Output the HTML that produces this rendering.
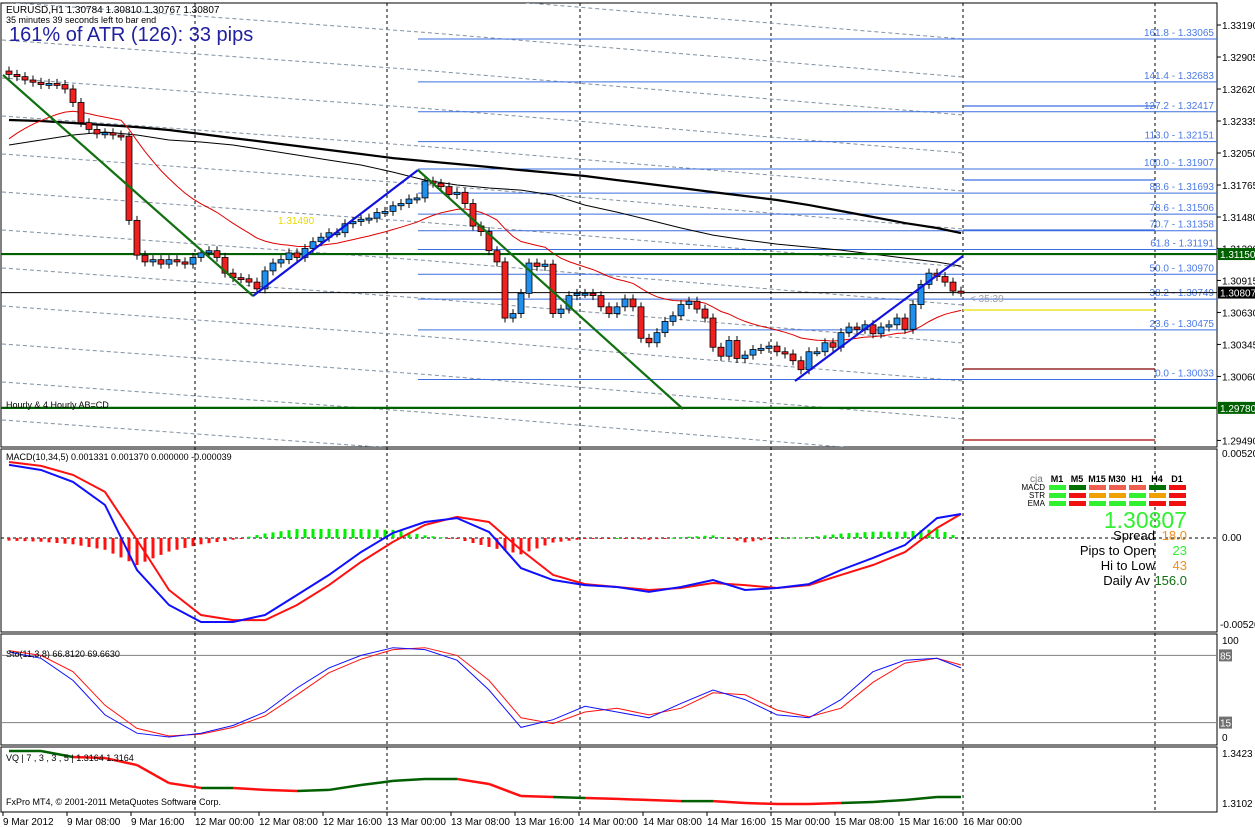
<!DOCTYPE html>
<html><head><meta charset="utf-8"><style>
html,body{margin:0;padding:0;background:#fff;}
svg{display:block;font-family:"Liberation Sans","DejaVu Sans",sans-serif;}
</style></head><body>
<svg id="c" width="1255" height="827" viewBox="0 0 1255 827" xmlns="http://www.w3.org/2000/svg">
<rect x="0" y="0" width="1255" height="827" fill="#fff"/>
<g id="g"></g>
</svg>
<script>
const closes=[1.3275,1.3273,1.3270,1.3268,1.3266,1.3267,1.3266,1.3262,1.3250,1.3232,1.3226,1.3222,1.3223,1.3221,1.3220,1.3145,1.3114,1.3108,1.3110,1.3106,
1.3110,1.3108,1.3106,1.3112,1.3116,1.3118,1.3112,1.3098,1.3094,1.3093,1.3090,1.3084,1.3100,1.3107,1.3110,1.3116,1.3112,1.3120,1.3126,1.3130,
1.3134,1.3134,1.3142,1.3144,1.3146,1.3147,1.3152,1.3153,1.3158,1.3160,1.3164,1.3165,1.3180,1.3178,1.3175,1.3168,1.3170,1.3160,1.3140,1.3135,
1.3118,1.3108,1.3058,1.3062,1.3080,1.3107,1.3104,1.3106,1.3062,1.3066,1.3078,1.3080,1.3080,1.3078,1.3068,1.3062,1.3068,1.3075,1.3068,1.3040,
1.3036,1.3045,1.3055,1.3060,1.3070,1.3073,1.3066,1.3058,1.3032,1.3024,1.3038,1.3022,1.3025,1.3030,1.3031,1.3033,1.3028,1.3026,1.3020,1.3012,
1.3028,1.3028,1.3036,1.3032,1.3045,1.3050,1.3048,1.3052,1.3044,1.3050,1.3052,1.3058,1.3048,1.3070,1.3088,1.3098,1.3095,1.3090,1.3082,1.3081];
const sparseIdx=[0,4,8,12,16,20,24,28,32,36,40,44,48,52,56,60,64,68,72,76,80,84,88,92,96,100,104,108,112,116,119];
const ma200=[1.32344,1.32335,1.32317,1.32299,1.32281,1.32255,1.32219,1.32183,1.32148,1.32112,1.32077,1.32041,1.32005,1.31978,1.31952,1.31925,1.31898,1.31872,1.31845,1.31809,1.31774,1.31738,1.31702,1.31667,1.31631,1.31586,1.31533,1.31480,1.31426,1.31382,1.31337];
const ma50=[1.32121,1.32166,1.32210,1.32237,1.32210,1.32166,1.32148,1.32121,1.32077,1.32032,1.31987,1.31943,1.31880,1.31809,1.31765,1.31738,1.31720,1.31676,1.31586,1.31524,1.31453,1.31382,1.31319,1.31275,1.31239,1.31212,1.31185,1.31150,1.31114,1.31079,1.31043];
const macdMain=[0.00447,0.00416,0.00343,0.00202,-0.00196,-0.00410,-0.00514,-0.00514,-0.00471,-0.00349,-0.00226,-0.00086,0.00031,0.00098,0.00122,0.00037,-0.00184,-0.00257,-0.00288,-0.00300,-0.00330,-0.00300,-0.00257,-0.00318,-0.00306,-0.00282,-0.00196,-0.00122,-0.00043,0.00122,0.00147];
const macdSignal=[0.00465,0.00441,0.00386,0.00282,-0.00012,-0.00318,-0.00471,-0.00502,-0.00502,-0.00410,-0.00288,-0.00147,-0.00024,0.00080,0.00129,0.00098,-0.00073,-0.00226,-0.00282,-0.00300,-0.00318,-0.00306,-0.00275,-0.00288,-0.00306,-0.00288,-0.00226,-0.00165,-0.00086,0.00061,0.00147];
const stoMain=[88.5,82,59,23,4,0,4,12,26,51,72,85,93,91,80,49,10,18,32,26,20,35,49,39,23,20,39,68,80,82,72];
const stoSignal=[90,85,68,33,9,1,3,10,22,44,67,81,91,93,85,59,20,14,26,30,23,30,46,44,28,21,30,57,77,82,75];
const vqVals=[1.3436,1.3436,1.3397,1.3390,1.3344,1.3226,1.3194,1.3194,1.3181,1.3174,1.3181,1.3213,1.3240,1.3253,1.3253,1.3220,1.3141,1.3135,1.3128,1.3122,1.3115,1.3108,1.3108,1.3095,1.3089,1.3089,1.3095,1.3102,1.3115,1.3135,1.3135];
const vqUp=[1,1,0,0,0,0,1,0,0,1,1,1,1,1,0,0,0,1,0,0,0,1,0,0,0,0,1,1,1,1,1];
const fibLevels=["161.8","141.4","127.2","113.0","100.0","88.6","78.6","70.7","61.8","50.0","38.2","23.6","0.0"];
const fibPrices=[1.33065,1.32683,1.32417,1.32151,1.31907,1.31693,1.31506,1.31358,1.31191,1.30970,1.30749,1.30475,1.30033];
const priceTicks=["1.33190","1.32905","1.32620","1.32335","1.32050","1.31765","1.31480","1.31200","1.30915","1.30630","1.30345","1.30060","1.29490"];
const dateLabels=["9 Mar 2012","9 Mar 08:00","9 Mar 16:00","12 Mar 00:00","12 Mar 08:00","12 Mar 16:00","13 Mar 00:00","13 Mar 08:00","13 Mar 16:00","14 Mar 00:00","14 Mar 08:00","14 Mar 16:00","15 Mar 00:00","15 Mar 08:00","15 Mar 16:00","16 Mar 00:00"];

const NS="http://www.w3.org/2000/svg";
const G=document.getElementById('g');
function el(t,a,parent){const e=document.createElementNS(NS,t);for(const k in a)e.setAttribute(k,a[k]);(parent||G).appendChild(e);return e;}
const bx=i=>9+8*i;
const yP=p=>25+(1.3319-p)*11228;
const yM=v=>538-v*16346;
const yS=v=>737-v*0.96;
const yV=v=>753+(1.3423-v)*1526;
const R=1217;

[[3,447],[449,632],[634,745],[747,812]].forEach(([a,b],k)=>{
 const r=el('rect',{x:1,y:a,width:R-1,height:b-a,fill:'none',stroke:'#000','stroke-width':1});
 
});
[195,387,580,771,963,1155].forEach(x=>{
 const l=el('line',{x1:x,y1:3,x2:x,y2:812,stroke:'#000','stroke-dasharray':'3,3','stroke-width':1});
 
});
const clip=el('clipPath',{id:'cm'});el('rect',{x:1,y:3,width:R-1,height:444},clip);
const main=el('g',{'clip-path':'url(#cm)'});
for(let b=-150;b<=470;b+=38){
 const l=el('polyline',{points:`2,${b} 420,${b+30} 963,${b+75}`,fill:'none',stroke:'#8090a0','stroke-dasharray':'4,3','stroke-width':1},main);
 
}
fibPrices.forEach((p,i)=>{
 const l=el('line',{x1:418,y1:yP(p),x2:R,y2:yP(p),stroke:'#3a6ee0','stroke-width':1},main);
 
 const t=el('text',{x:1214,y:yP(p)-3,'text-anchor':'end','font-size':10,fill:'#4a7ae8'},main);
 t.textContent=fibLevels[i]+' - '+p.toFixed(5);
 
});
[[106,'#3a6ee0'],[180,'#3a6ee0'],[230,'#3a6ee0'],[310,'#e8e000'],[369,'#800000'],[440,'#a00000']].forEach(([y,c])=>{
 const l=el('line',{x1:963,y1:y,x2:1155,y2:y,stroke:c,'stroke-width':1.3},main);
 
});
function pl(vals,idx,ys,attrs,parent,name){const pts=vals.map((v,k)=>bx(idx?idx[k]:k)+','+ys(v).toFixed(1)).join(' ');
 const e=el('polyline',Object.assign({points:pts,fill:'none'},attrs),parent);return e;}
pl(ma200,sparseIdx,yP,{stroke:'#000','stroke-width':2.2},main,'ma-200');
pl(ma50,sparseIdx,yP,{stroke:'#000','stroke-width':1},main,'ma-50');
const ema=[];let e0=1.3212;closes.forEach(c=>{e0=e0+(c-e0)*0.09;ema.push(e0);});
pl(ema,null,yP,{stroke:'#e00000','stroke-width':1},main,'ema-red');
[[1.3115,'#006000',2.2,'support-line-1.31150'],[1.2978,'#006000',2.2,'support-line-1.29780'],[1.30807,'#000',1,'current-price-line']].forEach(([p,c,w,n])=>{
 const l=el('line',{x1:1,y1:yP(p),x2:R,y2:yP(p),stroke:c,'stroke-width':w},main);
 
});
closes.forEach((c,i)=>{
 const o=i?closes[i-1]:1.3278;const x=bx(i);
 const hi=Math.max(o,c)+0.0004,lo=Math.min(o,c)-0.0004;
 const w=el('line',{x1:x,y1:yP(hi),x2:x,y2:yP(lo),stroke:'#000','stroke-width':1},main);
 
 const top=yP(Math.max(o,c)),h=Math.max(2,Math.abs(yP(o)-yP(c)));
 const b=el('rect',{x:x-3,y:top,width:6,height:h,fill:c>=o?'#2090f0':'#f02020',stroke:'#000','stroke-width':0.8},main);
 
});
[[[3,75],[253,296],'#107010'],[[253,296],[418,170],'#1010e0'],[[418,170],[683,409],'#107010'],[[795,381],[963,256],'#1010e0']].forEach(([a,b,c])=>{
 const l=el('line',{x1:a[0],y1:a[1],x2:b[0],y2:b[1],stroke:c,'stroke-width':2.2},main);
 
});
function txt(x,y,s,size,fill,name,anchor,parent,weight){const t=el('text',{x,y,'font-size':size,fill,'text-anchor':anchor||'start','font-weight':weight||'normal'},parent);t.textContent=s;return t;}
txt(278,224,'1.31490',10,'#e8d800','pivot-label',null,main);
txt(970,302,'< 35:39',10,'#a0a0a0','bar-timer',null,main);
txt(6,408,'Hourly & 4 Hourly AB=CD',9,'#000','pattern-label',null,main);
txt(6,13,'EURUSD,H1  1.30784 1.30810 1.30767 1.30807',10,'#000','symbol-ohlc',null,main);
txt(6,23,'35 minutes 39 seconds left to bar end',9,'#000','bar-countdown',null,main);
txt(9,41,'161% of ATR (126): 33 pips',20,'#2020a0','atr-label',null,main);

priceTicks.forEach(s=>{const y=yP(parseFloat(s));
 el('line',{x1:R,y1:y,x2:R+4,y2:y,stroke:'#000'});
 txt(1222,y+4,s,10,'#000','price-tick');});
[[1.3115,'#006000','1.31150'],[1.30807,'#000','1.30807'],[1.2978,'#006000','1.29780']].forEach(([p,c,s])=>{
 const y=yP(p);const r=el('rect',{x:R+1,y:y-6,width:37,height:12,fill:c});
 txt(1220,y+4,s,10,'#fff','price-marker-label');});

const zl=el('line',{x1:1,y1:538,x2:R,y2:538,stroke:'#000','stroke-dasharray':'3,3'});
for(let k=0;k<sparseIdx.length-1;k++){
 for(let i=sparseIdx[k];i<sparseIdx[k+1];i++){
  const t=(i-sparseIdx[k])/(sparseIdx[k+1]-sparseIdx[k]);
  const d=((macdMain[k]-macdSignal[k])*(1-t)+(macdMain[k+1]-macdSignal[k+1])*t)*0.9;
  const y=yM(d);
  const b=el('rect',{x:bx(i)-1.5,y:Math.min(y,538),width:3,height:Math.max(1,Math.abs(y-538)),fill:d>=0?'#00ee00':'#ff1010'});
  
 }
}
pl(macdSignal,sparseIdx,yM,{stroke:'#ff1010','stroke-width':2},G,'macd-signal-line');
pl(macdMain,sparseIdx,yM,{stroke:'#1010ff','stroke-width':2},G,'macd-main-line');
txt(6,460,'MACD(10,34,5) 0.001331 0.001370 0.000000 -0.000039',9,'#000','macd-title');
txt(1222,457,'0.00520',10,'#000','macd-tick');txt(1222,541,'0.00',10,'#000','macd-tick');txt(1220,628,'-0.00526',10,'#000','macd-tick');
const tfs=['M1','M5','M15','M30','H1','H4','D1'];
txt(1030,482,'cja',10,'#777','cja-label');
tfs.forEach((s,i)=>txt(1057+i*20,482,s,9,'#000','timeframe-header','middle',G,'bold'));
const rows=['MACD','STR','EMA'];
const cols=[['#30f030','#007000','#f06050','#f06050','#f06050','#007000','#f01010'],['#30f030','#f01010','#f0a000','#f0a000','#30f030','#f0a000','#f01010'],['#30f030','#f01010','#30f030','#30f030','#30f030','#f01010','#f01010']];
rows.forEach((r,j)=>{txt(1045,490+j*8,r,8,'#000','signal-row-label','end');
 cols[j].forEach((c,i)=>{const b=el('rect',{x:1049+i*20,y:485+j*8,width:17,height:5,fill:c});});});
txt(1187,528,'1.30807',23,'#30f030','bid-price','end');
txt(1155,540,'Spread',13,'#000','spread-label','end');txt(1187,540,'18.0',13,'#f09020','spread-value','end');
txt(1155,555,'Pips to Open',13,'#000','pips-open-label','end');txt(1187,555,'23',13,'#30f030','pips-open-value','end');
txt(1155,570,'Hi to Low',13,'#000','hilo-label','end');txt(1187,570,'43',13,'#f09020','hilo-value','end');
txt(1150,585,'Daily Av',13,'#000','daily-av-label','end');txt(1187,585,'156.0',13,'#107010','daily-av-value','end');

[85,15].forEach(v=>{const l=el('line',{x1:1,y1:yS(v),x2:R,y2:yS(v),stroke:'#808080'});});
pl(stoSignal,sparseIdx,yS,{stroke:'#ff1010','stroke-width':1},G,'sto-signal-line');
pl(stoMain,sparseIdx,yS,{stroke:'#1010ff','stroke-width':1},G,'sto-main-line');
txt(6,657,'Sto(11,3,8) 66.8120 69.6630',9,'#000','sto-title');
txt(1222,644,'100',10,'#000','sto-tick');txt(1222,741,'0',10,'#000','sto-tick');
[[85,'85'],[15,'15']].forEach(([v,s])=>{const r=el('rect',{x:R+2,y:yS(v)-6,width:13,height:12,fill:'#707070'});txt(1220,yS(v)+4,s,10,'#fff','sto-level-label');});

for(let k=0;k<vqVals.length-1;k++){
 const l=el('line',{x1:bx(sparseIdx[k]),y1:yV(vqVals[k]),x2:bx(sparseIdx[k+1]),y2:yV(vqVals[k+1]),stroke:vqUp[k]?'#006000':'#ff1010','stroke-width':2.5});
 
}
txt(6,761,'VQ | 7 , 3 , 3 , 5 | 1.3164 1.3164',9,'#000','vq-title');
txt(6,805,'FxPro MT4, © 2001-2011 MetaQuotes Software Corp.',9,'#000','copyright');
txt(1222,757,'1.3423',10,'#000','vq-tick');txt(1222,807,'1.3102',10,'#000','vq-tick');

dateLabels.forEach((s,i)=>{const x=3+64*i;el('line',{x1:x,y1:812,x2:x,y2:816,stroke:'#000'});txt(x,825,s,10,'#000','date-tick');});
</script>
</body></html>
